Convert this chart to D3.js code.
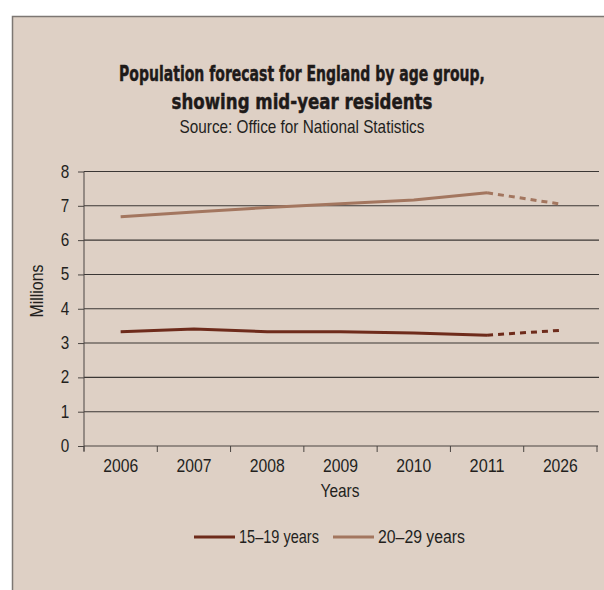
<!DOCTYPE html>
<html>
<head>
<meta charset="utf-8">
<script src="https://cdn.jsdelivr.net/npm/d3@7"></script>
<style>
  html, body { margin: 0; padding: 0; background: #ffffff; }
  svg { display: block; }
  text { font-family: "Liberation Sans", Arial, sans-serif; fill: #231f1d; }
</style>
</head>
<body>
<svg id="chart" width="604" height="590"></svg>
<script>
// Mid-year resident population, England (millions)
const years = ["2006", "2007", "2008", "2009", "2010", "2011", "2026"];
const teens = [3.33, 3.41, 3.33, 3.33, 3.29, 3.23, 3.37];      // 15–19 years
const twenties = [6.68, 6.82, 6.95, 7.06, 7.17, 7.38, 7.05];   // 20–29 years
const seriesNames = ["15–19 years", "20–29 years"];
const seriesColors = ["#6e2b1b", "#a3765f"];
const yTicks = [0, 1, 2, 3, 4, 5, 6, 7, 8];
const lastObserved = "2011";   // later years are projections (dashed)

const svg = d3.select("#chart");

// panel
svg.append("rect")
  .attr("x", 12.5).attr("y", 16.5)
  .attr("width", 620).attr("height", 600)
  .attr("fill", "#ded0c5")
  .attr("stroke", "#7d7773").attr("stroke-width", 1.5);

// Place a text centred at (cx, by) spanning width w by narrowing the glyphs.
function condensed(parent, str, cx, by, w, style) {
  const g = parent.append("g");
  const t = g.append("text").attr("text-anchor", "middle").text(str);
  Object.entries(style || {}).forEach(([k, v]) => t.style(k, v));
  const natural = t.node().getComputedTextLength();
  const k = Math.min(1, w / natural);
  g.attr("transform", `translate(${cx},${by}) scale(${k},1)`);
  return g;
}
const labelStyle = { "font-size": "17.5px" };

// titles
const titleStyle = {
  "font-family": "'DejaVu Sans', sans-serif", "font-weight": "bold",
  "font-size": "21px", "fill": "#1e1a19", "stroke": "#1e1a19", "stroke-width": "0.5px"
};
condensed(svg, "Population forecast for England by age group,", 302, 81, 366, titleStyle);
condensed(svg, "showing mid-year residents", 302, 109, 261, titleStyle);
condensed(svg, "Source: Office for National Statistics", 302, 133, 245, labelStyle);

// plot area
const plotLeft = 84, plotRight = 597, plotTop = 171.5, plotBottom = 446;
const x = d3.scaleBand().domain(years).range([plotLeft, plotRight]);
const y = d3.scaleLinear().domain([0, 8]).range([plotBottom, plotTop]);

// horizontal gridlines
svg.append("g").selectAll("line").data(yTicks.filter(d => d > 0)).join("line")
  .attr("x1", plotLeft).attr("x2", 599)
  .attr("y1", d => y(d)).attr("y2", d => y(d))
  .attr("stroke", "#3b3735").attr("stroke-width", 1.1);

// y axis (labels drawn separately in the condensed style)
const yAxis = svg.append("g")
  .attr("transform", `translate(${plotLeft},0)`)
  .call(d3.axisLeft(y).tickValues(yTicks).tickSize(6).tickFormat(""));
yAxis.select(".domain").attr("stroke", "#4a4542").attr("d", `M0,${plotTop}V${plotBottom + 5}`);
yAxis.selectAll(".tick line").attr("stroke", "#4a4542");
yTicks.forEach(v => {
  condensed(svg, String(v), 65, y(v) + 6, 8.5, labelStyle);
});

// x axis with ticks at category boundaries
const xAxis = svg.append("g").attr("transform", `translate(0,${plotBottom})`);
xAxis.append("line").attr("x1", plotLeft).attr("x2", plotRight + 1)
  .attr("stroke", "#4a4542").attr("stroke-width", 1.2);
const boundaries = years.map(d => x(d)).concat([x(years[years.length - 1]) + x.bandwidth()]);
xAxis.selectAll("line.tk").data(boundaries).join("line").attr("class", "tk")
  .attr("x1", d => d).attr("x2", d => d).attr("y1", 0).attr("y2", 6)
  .attr("stroke", "#4a4542");
years.forEach(yr => {
  condensed(xAxis, yr, x(yr) + x.bandwidth() / 2, 26, 35, labelStyle);
});

// axis titles
condensed(svg, "Years", 340, 497, 39, labelStyle);
const mil = condensed(svg, "Millions", 0, 0, 53, labelStyle);
mil.attr("transform", `translate(43,291) rotate(-90) ` +
  mil.attr("transform").replace(/translate\([^)]*\)\s*/, ""));

// series lines: solid for observed years, dashed for the projection
const series = [teens, twenties];
const line = d3.line()
  .x(d => x(d.year) + x.bandwidth() / 2)
  .y(d => y(d.value));
const cut = years.indexOf(lastObserved);

series.forEach((vals, i) => {
  const pts = years.map((yr, j) => ({ year: yr, value: vals[j] }));
  svg.append("path").datum(pts.slice(0, cut + 1))
    .attr("d", line).attr("fill", "none")
    .attr("stroke", seriesColors[i]).attr("stroke-width", 3)
    .attr("stroke-linejoin", "round");
  svg.append("path").datum(pts.slice(cut))
    .attr("d", line).attr("fill", "none")
    .attr("stroke", seriesColors[i]).attr("stroke-width", 3)
    .attr("stroke-dasharray", "6,5");
});

// legend
const legendItems = [
  { name: seriesNames[0], color: seriesColors[0], x0: 194, w: 80 },
  { name: seriesNames[1], color: seriesColors[1], x0: 333, w: 87 }
];
const lg = svg.append("g");
legendItems.forEach(it => {
  lg.append("line").attr("x1", it.x0).attr("x2", it.x0 + 41)
    .attr("y1", 537).attr("y2", 537)
    .attr("stroke", it.color).attr("stroke-width", 3);
  condensed(lg, it.name, it.x0 + 45 + it.w / 2, 543, it.w, labelStyle);
});
</script>
</body>
</html>
